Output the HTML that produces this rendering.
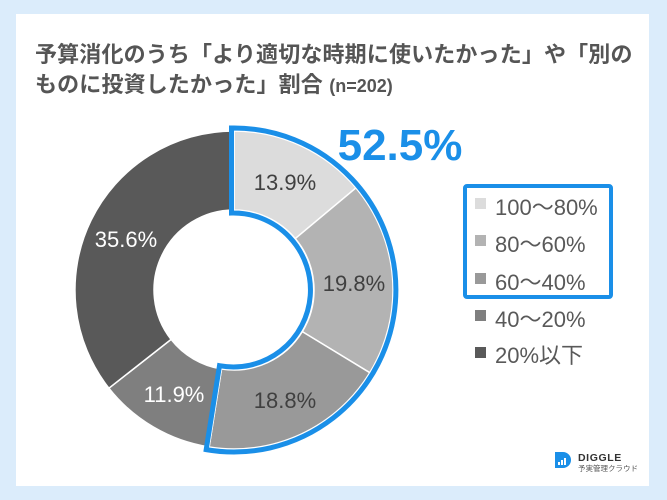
<!DOCTYPE html>
<html><head><meta charset="utf-8">
<style>
html,body{margin:0;padding:0;}
body{width:667px;height:500px;background:#dbecfb;position:relative;overflow:hidden;font-family:"Liberation Sans","Noto Sans CJK JP",sans-serif;}
.card{position:absolute;left:16px;top:14px;width:633px;height:472px;background:#fff;}
.title{position:absolute;left:35px;top:40px;font-size:22px;font-weight:bold;color:#555;line-height:30px;letter-spacing:0.15px;font-family:"Liberation Sans","Noto Sans CJK JP",sans-serif;white-space:nowrap;}
.title small{font-size:18px;font-weight:bold;letter-spacing:0;}
svg{position:absolute;left:0;top:0;}
</style></head><body>
<div class="card"></div>
<div class="title">予算消化のうち「より適切な時期に使いたかった」や「別の<br>ものに投資したかった」割合 <small>(n=202)</small></div>
<svg width="667" height="500" viewBox="0 0 667 500" xmlns="http://www.w3.org/2000/svg">
<g transform="translate(234,290)" stroke="#fff" stroke-width="1.5">
<path fill="#dcdcdc" d="M0,-159 A159,159 0 0 1 121.9,-102.1 L61.3,-51.4 A80,80 0 0 0 0,-80 Z"/>
<path fill="#b3b3b3" d="M121.9,-102.1 A159,159 0 0 1 135.8,82.7 L68.3,41.6 A80,80 0 0 0 61.3,-51.4 Z"/>
<path fill="#999999" d="M135.8,82.7 A159,159 0 0 1 -24.9,157 L-12.5,79 A80,80 0 0 0 68.3,41.6 Z"/>
<path fill="#7f7f7f" d="M-24.9,157 A159,159 0 0 1 -125.1,98.2 L-62.9,49.4 A80,80 0 0 0 -12.5,79 Z"/>
<path fill="#595959" d="M-125.1,98.2 A159,159 0 0 1 0,-159 L0,-80 A80,80 0 0 0 -62.9,49.4 Z"/>
<path fill="none" stroke="#1a8fe8" stroke-width="5" stroke-linejoin="miter" d="M-2.5,-162 A162,162 0 1 1 -27.8,159.6 L-14.5,75.7 A77,77 0 1 0 -2.5,-77 Z"/>
</g>
<g font-family="Liberation Sans, sans-serif" font-size="22" text-anchor="middle">
<text x="285" y="190" fill="#404040">13.9%</text>
<text x="354" y="291" fill="#404040">19.8%</text>
<text x="285" y="408" fill="#404040">18.8%</text>
<text x="174" y="402" fill="#ffffff">11.9%</text>
<text x="126" y="247" fill="#ffffff">35.6%</text>
</g>
<text x="400" y="160" text-anchor="middle" font-family="Liberation Sans, sans-serif" font-weight="bold" font-size="44" fill="#1a8fe8">52.5%</text>
<rect x="465" y="186" width="146" height="111" rx="2" fill="none" stroke="#1a8fe8" stroke-width="4"/>
<g>
<rect x="475" y="198" width="11" height="11" fill="#dcdcdc"/>
<rect x="475" y="235" width="11" height="11" fill="#b3b3b3"/>
<rect x="475" y="273" width="11" height="11" fill="#999999"/>
<rect x="475" y="310" width="11" height="11" fill="#7f7f7f"/>
<rect x="475" y="347" width="11" height="11" fill="#595959"/>
</g>
<g font-family="Liberation Sans, Noto Sans CJK JP, sans-serif" font-size="22" fill="#595959">
<text x="495" y="215">100〜80%</text>
<text x="495" y="252">80〜60%</text>
<text x="495" y="290">60〜40%</text>
<text x="495" y="327">40〜20%</text>
<text x="495" y="363">20%以下</text>
</g>
<g>
<path fill="#1a8fe8" d="M555,452 L563,452 A8,8 0 0 1 571,460 A8,8 0 0 1 563,468 L555,468 Z"/>
<rect x="558" y="462" width="2" height="3" fill="#fff"/>
<rect x="561" y="460" width="2" height="5" fill="#fff"/>
<rect x="564" y="458" width="2" height="7" fill="#fff"/>
<text x="578" y="461" font-family="Liberation Sans, sans-serif" font-weight="bold" font-size="10.5" fill="#333" letter-spacing="0.6">DIGGLE</text>
<text x="578" y="471" font-family="Liberation Sans, Noto Sans CJK JP, sans-serif" font-size="7.5" fill="#555">予実管理クラウド</text>
</g>
</svg>
</body></html>
